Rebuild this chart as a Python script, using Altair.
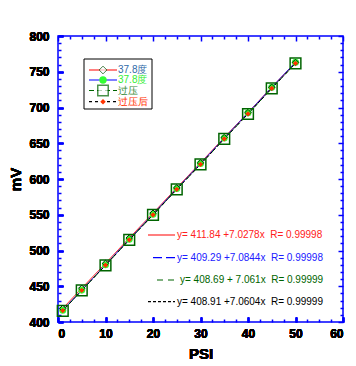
import altair as alt
import pandas as pd

# ---- data ----
psi = [1, 5, 10, 15, 20, 25, 30, 35, 40, 45, 50]
s1 = [419.0, 447.2, 482.0, 517.5, 552.2, 587.6, 622.6, 658.0, 692.9, 728.3, 763.0]
s2 = [416.5, 444.6, 480.0, 515.8, 550.8, 586.6, 621.6, 657.4, 692.5, 728.2, 763.4]
s3 = [415.7, 444.1, 479.2, 514.8, 549.7, 585.4, 620.3, 656.0, 690.9, 726.6, 761.6]
s4 = [416.0, 444.3, 479.4, 515.0, 549.9, 585.6, 620.5, 656.2, 691.1, 726.8, 761.8]

legend_labels = ["37.8度", "37.8度", "过压", "过压后"]
NB = "\u00a0"
fit_labels = [
    "y=" + NB + "411.84" + NB + "+7.0278x" + NB * 2 + "R=" + NB + "0.99998",
    "y=" + NB + "409.29" + NB + "+7.0844x" + NB * 2 + "R=" + NB + "0.99998",
    "y=" + NB + "408.69" + NB + "+" + NB + "7.061x" + NB * 2 + "R=" + NB + "0.99999",
    "y=" + NB + "408.91" + NB + "+7.0604x" + NB * 2 + "R=" + NB + "0.99999",
]

x_major = [0, 10, 20, 30, 40, 50, 60]
x_minor = [2.5, 5, 7.5, 12.5, 15, 17.5, 22.5, 25, 27.5, 32.5, 35, 37.5,
           42.5, 45, 47.5, 52.5, 55, 57.5]
y_major = [400, 450, 500, 550, 600, 650, 700, 750, 800]
y_minor = [v for v in range(400, 801, 10) if v % 50 != 0]

BLUE = "#0000ff"
FONT = "Liberation Sans"

def frame(vals):
    return pd.DataFrame({"psi": psi, "mv": vals})

xs = alt.Scale(domain=[0, 60], nice=False, zero=False)
ys = alt.Scale(domain=[400, 800], nice=False, zero=False)

def ax(orient, values, size, labels=False, title=None, **kw):
    return alt.Axis(orient=orient, values=values, tickSize=size, offset=-size,
                    domain=False, grid=False, labels=labels, title=title,
                    tickColor=BLUE, tickWidth=1.5, **kw)

main_x = ax("bottom", x_major, 5, labels=True, title="PSI", labelPadding=6,
            labelFont=FONT, labelFontSize=12, labelFontWeight="bold", labelColor="black",
            titleFont=FONT, titleFontSize=15, titleFontWeight="bold", titleColor="black",
            titlePadding=7, format="d")
main_y = ax("left", y_major, 5, labels=True, title="mV", labelPadding=9,
            labelFont=FONT, labelFontSize=12, labelFontWeight="bold", labelColor="black",
            titleFont=FONT, titleFontSize=15, titleFontWeight="bold", titleColor="black",
            titlePadding=5, format="d")

def carrier(xaxis, yaxis):
    return alt.Chart(frame(s1)).mark_point(opacity=0).encode(
        x=alt.X("psi:Q", scale=xs, axis=xaxis),
        y=alt.Y("mv:Q", scale=ys, axis=yaxis),
    )

def line(vals, color, dash):
    return alt.Chart(frame(vals)).mark_line(color=color, strokeWidth=1, strokeDash=dash).encode(
        x=alt.X("psi:Q", scale=xs, axis=main_x),
        y=alt.Y("mv:Q", scale=ys, axis=main_y),
    )

def pts(vals, **mk):
    return alt.Chart(frame(vals)).mark_point(**mk).encode(
        x=alt.X("psi:Q", scale=xs, axis=main_x),
        y=alt.Y("mv:Q", scale=ys, axis=main_y),
    )

one = alt.Data(values=[{"k": 1}])

def txt(s, x, y, color, size=10, align="left"):
    return alt.Chart(one).mark_text(text=s, align=align, baseline="middle", font=FONT,
                                    fontSize=size, color=color).encode(
        x=alt.value(x), y=alt.value(y))

def seg(x1, x2, y, color, dash):
    return alt.Chart(one).mark_rule(color=color, strokeWidth=1.2, strokeDash=dash).encode(
        x=alt.value(x1), x2=alt.value(x2), y=alt.value(y))

def sym(x, y, **mk):
    return alt.Chart(one).mark_point(**mk).encode(x=alt.value(x), y=alt.value(y))

layers = [
    line(s1, "#ff0000", [1, 0]),
    line(s2, "#0000ff", [1, 0]),
    line(s3, "#006400", [6, 3]),
    line(s4, "#000000", [3, 2]),
    pts(s3, shape="square", filled=False, color="#006400", size=115, strokeWidth=1.5, opacity=1),
    pts(s2, shape="circle", filled=True, color="#33ff33", size=50, opacity=1),
    pts(s1, shape="diamond", filled=False, color="#003300", size=40, strokeWidth=1, opacity=1),
    pts(s4, shape="diamond", filled=True, color="#ff3300", size=28, opacity=1),
    carrier(ax("bottom", x_minor, 3), ax("left", y_minor, 3)),
    carrier(ax("top", x_major, 5), ax("right", y_major, 5)),
    carrier(ax("top", x_minor, 3), ax("right", y_minor, 3)),
    # legend box
    alt.Chart(one).mark_rect(fill="white", stroke="black", strokeWidth=1).encode(
        x=alt.value(26), x2=alt.value(94), y=alt.value(23), y2=alt.value(73)),
    seg(31, 59, 34, "#ff0000", [1, 0]),
    seg(31, 59, 44, "#0000ff", [1, 0]),
    seg(31, 59, 54.5, "#006400", [5, 3]),
    seg(31, 59, 65.7, "#000000", [3, 3]),
    sym(45, 34, shape="diamond", filled=True, fill="white", stroke="#004d00", strokeWidth=1, size=60),
    sym(45, 44, shape="circle", filled=True, color="#33ff33", size=55, opacity=1),
    sym(45, 54.5, shape="square", filled=True, fill="white", stroke="#006400", strokeWidth=1.5, size=110),
    sym(45, 65.7, shape="diamond", filled=True, color="#ff3300", size=30, opacity=1),
    txt(legend_labels[0], 60, 34, "#2f6aa8", 10),
    txt(legend_labels[1], 60, 44, "#33ee33", 10),
    txt(legend_labels[2], 60, 54.5, "#3a8a3a", 10),
    txt(legend_labels[3], 60, 65.7, "#ff3300", 10),
    # fit annotations
    seg(90, 117, 199, "#ff0000", [1, 0]),
    seg(95, 117, 221.7, "#0000ff", [9, 4]),
    seg(99, 117, 244, "#006400", [6, 5]),
    seg(90, 117, 265.7, "#000000", [3, 2]),
    txt(fit_labels[0], 119, 199, "#ff2020"),
    txt(fit_labels[1], 119, 221.7, "#2020ff"),
    txt(fit_labels[2], 122, 244, "#006400"),
    txt(fit_labels[3], 119, 265.7, "#000000"),
]

chart = alt.layer(*layers).resolve_axis(x="independent", y="independent").properties(
    width=285, height=286,
    autosize=alt.AutoSizeParams(type="none"),
    padding={"left": 50, "top": 28, "right": 5, "bottom": 44},
).configure_view(stroke=BLUE, strokeWidth=1.5)

chart.save("out.html", embed_options={"renderer": "svg", "actions": False})
